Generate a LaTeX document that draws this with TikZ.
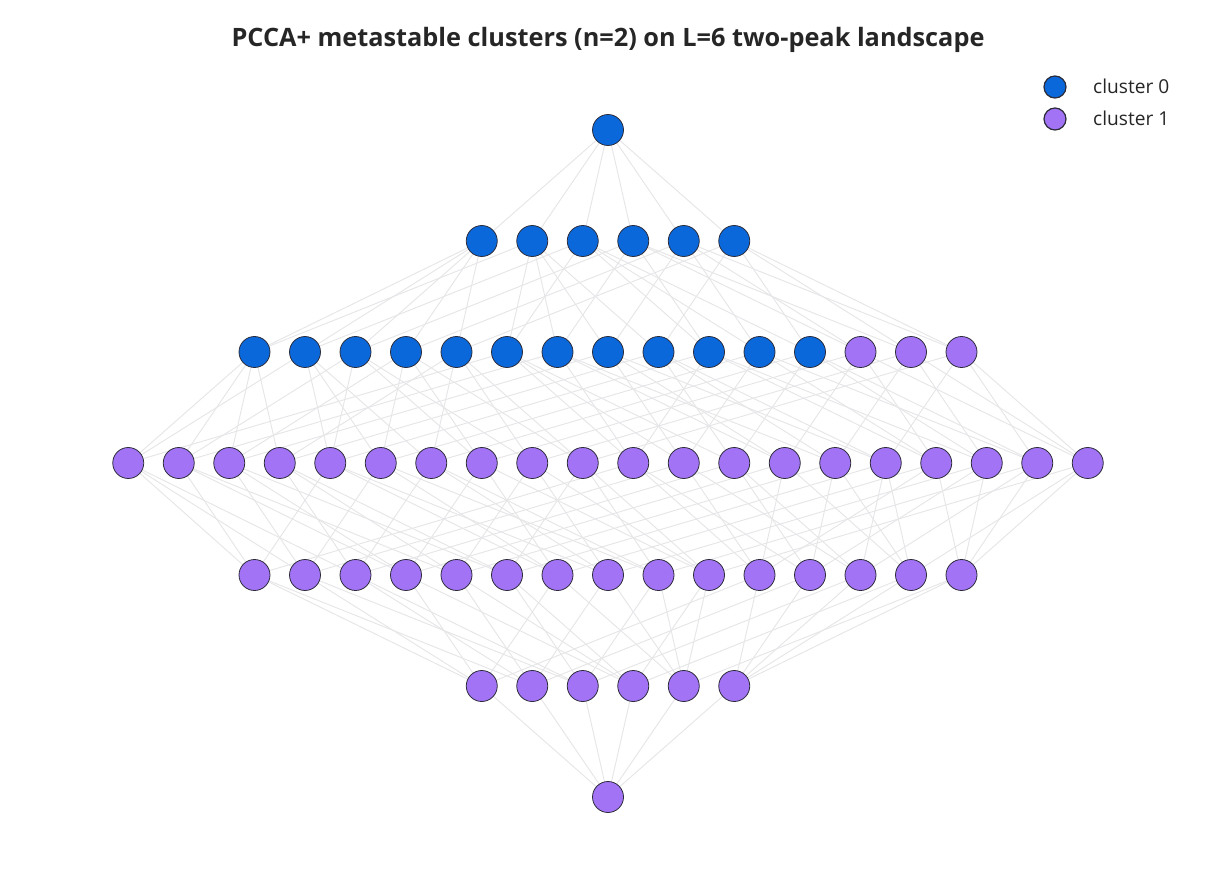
\documentclass[tikz,border=0pt]{standalone}
\usepackage{fontspec}
\setmainfont{Open Sans}
\usepackage{xcolor}
\usepackage{tikz}
\usetikzlibrary{backgrounds}

\definecolor{clublue}{HTML}{0A68DA}
\definecolor{clupurple}{HTML}{A274F5}
\definecolor{linkgray}{HTML}{E6E6E9}
\definecolor{rimdark}{HTML}{2B2B3A}

\begin{document}
\begin{tikzpicture}[
    x=0.02cm, y=-0.02cm,
    state/.style={circle, draw=rimdark, line width=0.45pt, minimum size=0.62cm, inner sep=0pt},
    clu0/.style={state, fill=clublue},
    clu1/.style={state, fill=clupurple},
    link/.style={draw=linkgray, line width=0.55pt},
    legdot/.style={circle, draw=rimdark, line width=0.7pt, minimum size=0.44cm, inner sep=0pt},
    legtext/.style={anchor=base west, font=\fontsize{10.9}{13}\selectfont, text=black!85}
]
\useasboundingbox (0,0) rectangle (1216,895);

% Title
\node[anchor=base, font=\bfseries\fontsize{14.4}{17}\selectfont, text=black!85] (title) at (608,47)
    {PCCA+ metastable clusters (n=2) on L=6 two-peak landscape};

% States (bitmask of the sites), one row per Hamming weight
\foreach \yy/\cnt/\members in {
    130/1/{0/clu0},
    241/6/{1/clu0,2/clu0,4/clu0,8/clu0,16/clu0,32/clu0},
    352/15/{3/clu0,5/clu0,9/clu0,17/clu0,33/clu0,6/clu0,10/clu0,18/clu0,34/clu0,12/clu0,20/clu0,36/clu0,24/clu1,40/clu1,48/clu1},
    463/20/{7/clu1,11/clu1,19/clu1,35/clu1,13/clu1,21/clu1,37/clu1,25/clu1,41/clu1,49/clu1,14/clu1,22/clu1,38/clu1,26/clu1,42/clu1,50/clu1,28/clu1,44/clu1,52/clu1,56/clu1},
    575/15/{15/clu1,23/clu1,39/clu1,27/clu1,43/clu1,51/clu1,29/clu1,45/clu1,53/clu1,57/clu1,30/clu1,46/clu1,54/clu1,58/clu1,60/clu1},
    686/6/{31/clu1,47/clu1,55/clu1,59/clu1,61/clu1,62/clu1},
    797/1/{63/clu1}}{
  \foreach \m/\c [count=\k] in \members {
    \pgfmathsetmacro\xx{608+(\k-(\cnt+1)/2)*50.5}
    \node[\c] (n\m) at (\xx,\yy) {};
  }
}

% Single-flip transitions
\begin{scope}[on background layer]
\foreach \i in {0,...,63}{
  \foreach \b in {0,...,5}{
    \pgfmathtruncatemacro\bit{mod(floor(\i/(2^\b)),2)}
    \ifnum\bit=0
      \pgfmathtruncatemacro\j{\i+2^\b}
      \draw[link] (n\i.center) -- (n\j.center);
    \fi
  }
}
\end{scope}

% Legend
\node[legdot, fill=clublue] (leg0) at (1055,87) {};
\node[legtext] (leg0txt) at (1087,94) {cluster 0};
\node[legdot, fill=clupurple] (leg1) at (1055,119) {};
\node[legtext] (leg1txt) at (1087,126) {cluster 1};

\end{tikzpicture}
\end{document}
